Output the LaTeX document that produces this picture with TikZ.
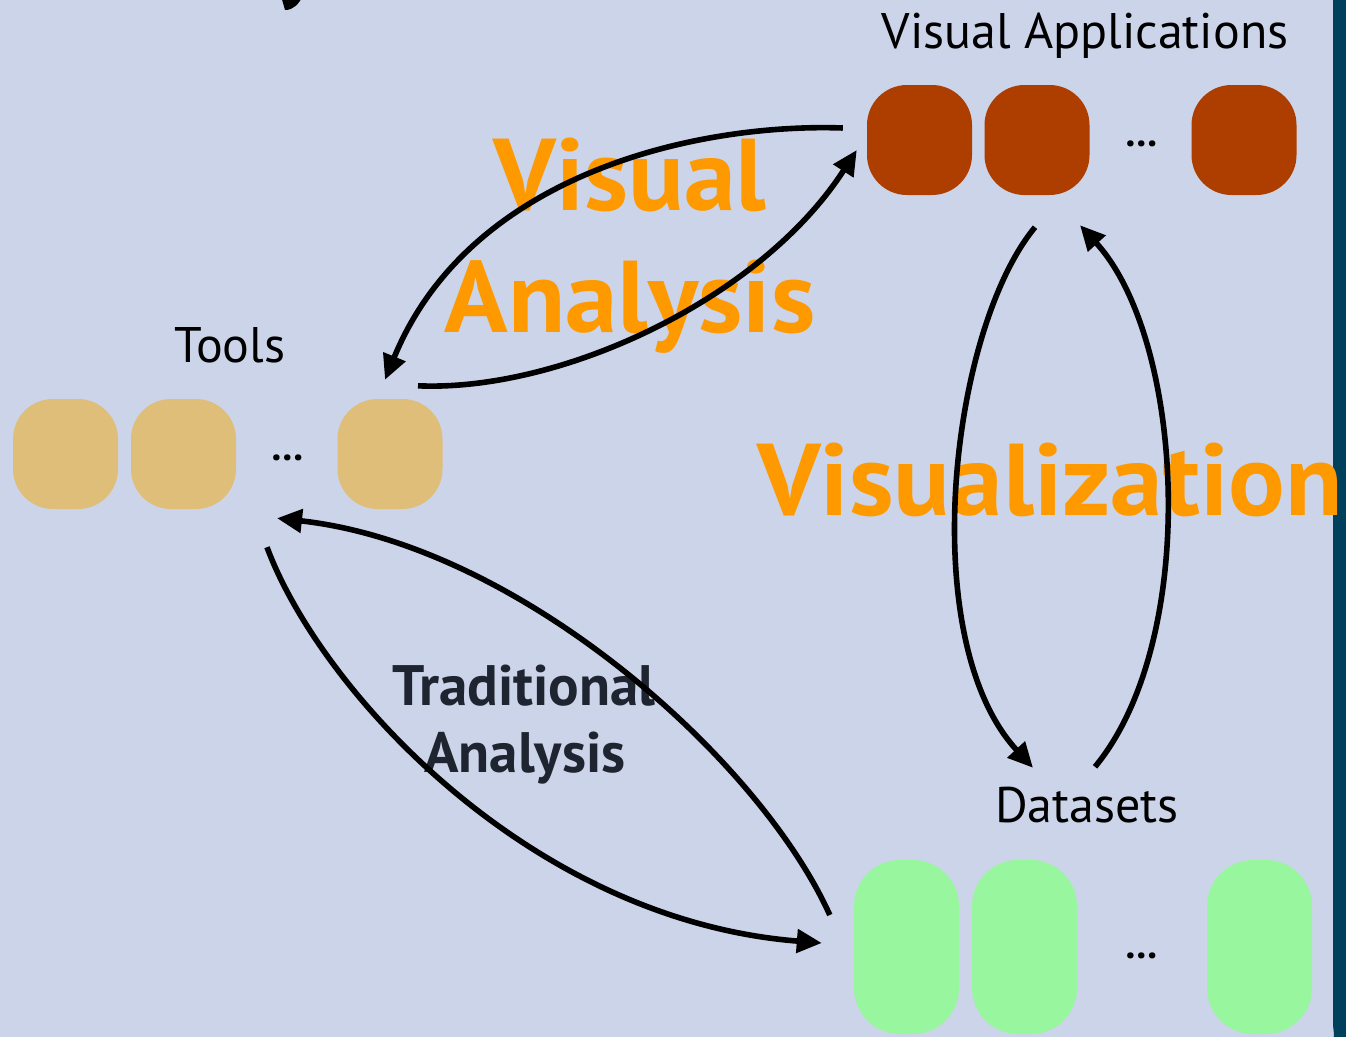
\documentclass[tikz,border=0pt]{standalone}
\usepackage{fontspec}
\usetikzlibrary{arrows.meta,calc}
\newfontfamily\diafont{PT Sans}
\definecolor{bgblue}{HTML}{CBD4E8}
\definecolor{barblue}{HTML}{00405A}
\definecolor{appbrown}{HTML}{AE3D00}
\definecolor{tooltan}{HTML}{DFBE7A}
\definecolor{datagreen}{HTML}{98F79E}
\definecolor{vizorange}{HTML}{FF9900}
\definecolor{darktext}{HTML}{1E2430}
\tikzset{
  itembox/.style={rounded corners=40pt, minimum width=105pt, minimum height=110pt, inner sep=0pt, draw=none},
  appbox/.style={itembox, fill=appbrown},
  toolbox/.style={itembox, fill=tooltan},
  databox/.style={itembox, fill=datagreen, minimum height=174pt, rounded corners=46pt},
  grouplabel/.style={anchor=base, inner sep=0pt, font=\diafont\fontsize{50}{56}\selectfont},
  dots/.style={inner sep=0pt, font=\diafont\bfseries\fontsize{40}{44}\selectfont},
  bigword/.style={anchor=base, inner sep=0pt, text=vizorange, font=\diafont\bfseries\fontsize{102}{110}\selectfont},
  midword/.style={anchor=base, inner sep=0pt, text=darktext, font=\diafont\bfseries\fontsize{57}{62}\selectfont},
  flow/.style={line width=5.6pt, -{Triangle[length=25pt,width=23pt]}}
}
\begin{document}
\begin{tikzpicture}[x=1pt,y=-1pt]
  % fixed frame, then canvas and right-hand frame bar
  \useasboundingbox (0,0) rectangle (1346,1036);
  \fill[bgblue] (-4,-4) rectangle (1350,1040);
  \fill[barblue] (1350,-4) -- (1333,-4) -- (1333,1024) to[out=-90,in=0] (1330,1040) -- (1350,1040) -- cycle;
  % tail of an arrow entering from above
  \fill[black] (281,-4) -- (285,10) to[out=0,in=240] (303,-4) -- cycle;

  % large category words (arrows run over them)
  \node[bigword, xscale=1.02] (w-visual) at (630,210) {Visual};
  \node[bigword, xscale=1.03] (w-analysis) at (630,332) {Analysis};
  \node[bigword, xscale=1.035] (w-viz) at (1050,515) {Visualization};
  \node[midword] (w-trad) at (524,705) {Traditional};
  \node[midword] (w-tanal) at (525,772) {Analysis};

  % visual applications
  \node[grouplabel] (lab-va) at (1085,48) {Visual Applications};
  \node[appbox] (va1) at (919.5,140) {};
  \node[appbox] (va2) at (1037,140) {};
  \node[dots] (va-dots) at (1142,144) {…};
  \node[appbox] (va3) at (1244,140) {};

  % tools
  \node[grouplabel] (lab-tools) at (230,362) {Tools};
  \node[toolbox] (tl1) at (65.5,454) {};
  \node[toolbox] (tl2) at (183.5,454) {};
  \node[dots] (tl-dots) at (288,458) {…};
  \node[toolbox] (tl3) at (390,454) {};

  % datasets
  \node[grouplabel] (lab-ds) at (1087,822) {Datasets};
  \node[databox] (ds1) at (906.5,947) {};
  \node[databox] (ds2) at (1024.5,947) {};
  \node[dots] (ds-dots) at (1142,956) {…};
  \node[databox] (ds3) at (1259.5,947) {};

  % visual analysis loop
  \draw[flow] ([shift={(-24,-12)}]va1.west) .. controls (700,123) and (470,172) .. ([shift={(-5,-19)}]tl3.north);
  \draw[flow] ([shift={(28,-13)}]tl3.north) .. controls (560,392) and (760,300) .. ([shift={(-10,10)}]va1.west);
  % visualization loop
  \draw[flow] ([shift={(-2,32)}]va2.south) .. controls (950,330) and (915,640) .. ([shift={(8.5,-92)}]ds2.north);
  \draw[flow] ([shift={(70.5,-93)}]ds2.north) .. controls (1200,640) and (1185,340) .. ([shift={(43,30)}]va2.south);
  % traditional analysis loop
  \draw[flow] ([shift={(-24,-32)}]ds1.west) .. controls (760,760) and (520,545) .. ([shift={(93.5,9)}]tl2.south);
  \draw[flow] ([shift={(83.5,38)}]tl2.south) .. controls (320,690) and (530,920) .. ([shift={(-32,-4)}]ds1.west);
\end{tikzpicture}
\end{document}
